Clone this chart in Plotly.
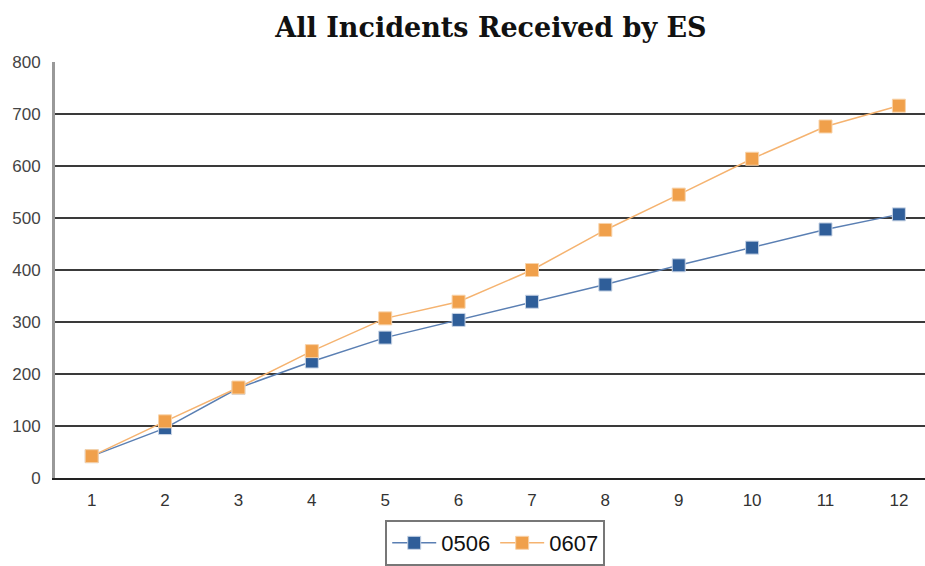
import plotly.graph_objects as go

# Monthly cumulative incidents received by ES, two financial years
months = [1, 2, 3, 4, 5, 6, 7, 8, 9, 10, 11, 12]
series_0506 = [42, 96, 173, 224, 270, 304, 339, 372, 409, 443, 478, 507]
series_0607 = [42, 109, 174, 244, 307, 339, 400, 477, 545, 614, 676, 716]
y_ticks = [0, 100, 200, 300, 400, 500, 600, 700, 800]

BLUE = "#2F5E99"
BLUE_LINE = "#5A7FB3"
ORANGE = "#F0A04B"
ORANGE_LINE = "#F5B370"

fig = go.Figure()
fig.add_trace(go.Scatter(
    x=months, y=series_0506, name="0506", mode="lines+markers",
    line=dict(color=BLUE_LINE, width=1.5),
    marker=dict(symbol="square", size=13, color=BLUE,
                line=dict(color="#C9D5E6", width=1)),
))
fig.add_trace(go.Scatter(
    x=months, y=series_0607, name="0607", mode="lines+markers",
    line=dict(color=ORANGE_LINE, width=1.5),
    marker=dict(symbol="square", size=13, color=ORANGE,
                line=dict(color="#F8D3AA", width=1)),
))

fig.update_layout(
    width=925, height=566,
    margin=dict(l=55, r=0, t=62, b=87),
    paper_bgcolor="white", plot_bgcolor="white",
    title=dict(text="<b>All Incidents Received by ES</b>",
               x=491 / 925, xanchor="center", y=1 - 28 / 566, yanchor="middle",
               font=dict(family="DejaVu Serif", size=27, color="#111")),
    font=dict(family="Liberation Sans", size=16, color="#333"),
    showlegend=True,
    legend=dict(orientation="h", x=0.506, xanchor="center", y=-0.1, yanchor="top",
                bordercolor="#777", borderwidth=2, bgcolor="white",
                font=dict(family="Liberation Sans", size=22, color="#111"),
                itemwidth=44, tracegroupgap=0),
    xaxis=dict(range=[0.5, 12.356], tickmode="array", tickvals=months,
               ticktext=[str(m) for m in months],
               showgrid=False, zeroline=False,
               showline=True, linecolor="#222", linewidth=2,
               ticks="", ticklabelstandoff=6,
               tickfont=dict(family="Liberation Sans", size=17, color="#333")),
    yaxis=dict(range=[0, 800], tickmode="array", tickvals=y_ticks,
               showgrid=True, gridcolor="#3a3a3a", gridwidth=1.5,
               zeroline=False, showline=True, linecolor="#999", linewidth=3,
               ticks="", ticklabelstandoff=8,
               tickfont=dict(family="Liberation Sans", size=17, color="#444")),
)

fig.write_html("out.html")
